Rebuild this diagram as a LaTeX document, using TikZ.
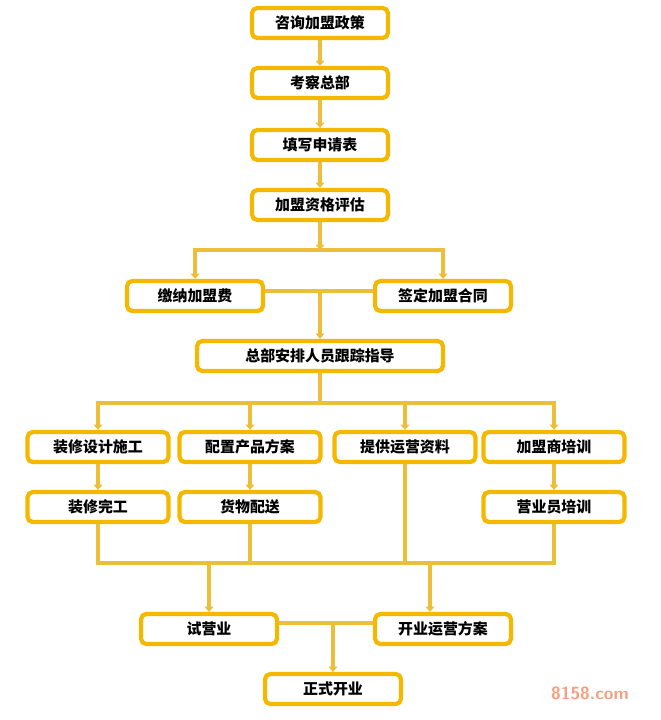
\documentclass[tikz,border=0pt]{standalone}
\usepackage{fontspec}
\newfontfamily\cjk{Noto Sans CJK SC}
\usetikzlibrary{arrows.meta, positioning}
\definecolor{gold}{HTML}{F5B800}
\definecolor{goldline}{HTML}{EDBE3A}
\definecolor{mark}{HTML}{F4A080}

\begin{document}
\begin{tikzpicture}[x=0.02cm, y=-0.02cm,
        stepbox/.style = {draw=gold, line width=2.4pt, rounded corners=3pt, fill=white,
            minimum height=0.6cm, minimum width=2.72cm, inner sep=2pt,
            font=\cjk\bfseries\fontsize{8.5}{10}\selectfont},
        branchbox/.style = {stepbox, minimum width=2.82cm},
        widebox/.style = {stepbox, minimum width=4.92cm},
        link/.style = {draw=goldline, line width=2pt},
        arrow/.style = {link, -{Triangle[length=3pt, width=5pt]}}
    ]
        \useasboundingbox (0,0) rectangle (660,720);
        % main column
        \node[stepbox] (ask) at (320,23) {咨询加盟政策};
        \node[stepbox] (visit) at (320,83) {考察总部};
        \node[stepbox] (form) at (320,145) {填写申请表};
        \node[stepbox] (eval) at (320,205) {加盟资格评估};
        \node[stepbox] (fee) at (195,296) {缴纳加盟费};
        \node[stepbox] (contract) at (443,296) {签定加盟合同};
        \node[widebox] (staff) at (320,356) {总部安排人员跟踪指导};
        % four branches
        \node[branchbox] (decor) at (98,447) {装修设计施工};
        \node[branchbox] (goods) at (250,447) {配置产品方案};
        \node[branchbox] (info) at (405,447) {提供运营资料};
        \node[branchbox] (train) at (554,447) {加盟商培训};
        \node[branchbox] (done) at (98,507) {装修完工};
        \node[branchbox] (ship) at (250,507) {货物配送};
        \node[branchbox] (clerk) at (554,507) {营业员培训};
        % opening
        \node[stepbox] (trial) at (209,629) {试营业};
        \node[stepbox] (plan) at (443,629) {开业运营方案};
        \node[stepbox] (open) at (333,689) {正式开业};
        \node[font=\bfseries\sffamily\fontsize{10}{10}\selectfont, text=mark] (site) at (590,693) {8158.com};

        \coordinate (split) at (320,250);
        \coordinate (join) at (320,291);
        \coordinate (fan) at (320,403);
        \coordinate (merge) at (320,563);
        \coordinate (toplan) at (430,563);
        \coordinate (final) at (333,623);

        \draw[arrow] (ask) -- (visit);
        \draw[arrow] (visit) -- (form);
        \draw[arrow] (form) -- (eval);
        \draw[arrow] (eval) -- (split);
        \draw[arrow] (split) -| (fee);
        \draw[arrow] (split) -| (contract);
        \draw[link] (fee.east |- join) -- (contract.west |- join);
        \draw[arrow] (join) -- (staff);
        \draw[link] (staff) -- (fan);
        \foreach \n in {decor, goods, info, train}
            \draw[arrow] (fan) -| (\n);
        \draw[arrow] (decor) -- (done);
        \draw[arrow] (goods) -- (ship);
        \draw[arrow] (train) -- (clerk);
        \draw[link] (done.south) |- (merge) -| (clerk.south);
        \draw[link] (ship) -- (ship.south |- merge);
        \draw[link] (info) -- (info.south |- merge);
        \draw[arrow] (trial.north |- merge) -- (trial);
        \draw[arrow] (toplan) -- (toplan |- plan.north);
        \draw[link] (trial.east |- final) -- (plan.west |- final);
        \draw[arrow] (final) -- (open);
\end{tikzpicture}
\end{document}
